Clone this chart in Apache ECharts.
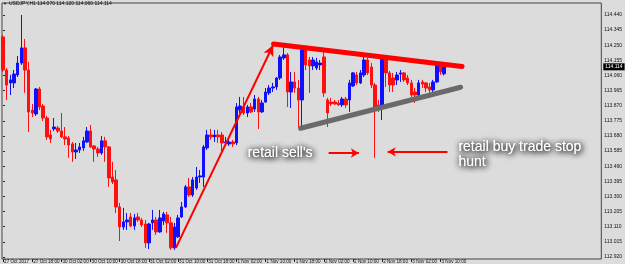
<!DOCTYPE html>
<html><head><meta charset="utf-8">
<script src="https://cdn.jsdelivr.net/npm/echarts@6/dist/echarts.min.js"></script>
<style>html,body{margin:0;padding:0;background:#dcdcdc}#c{width:625px;height:264px}</style>
</head><body><div id="c"></div>
<script>
// ---- data (USDJPY H1, bar index 0 = 27 Oct 2017 10:00) ----
const opens = [114.302,114.094,114.013,114.013,114.063,114.138,114.233,114.094,113.843,113.818,
113.975,113.868,113.793,113.686,113.724,113.730,113.711,113.674,113.667,113.630,
113.579,113.592,113.605,113.642,113.711,113.617,113.598,113.573,113.649,113.611,
113.422,113.404,113.234,113.108,113.140,113.171,113.115,113.171,113.152,113.127,
113.008,113.134,113.152,113.077,113.146,113.184,113.134,112.977,113.046,113.171,
113.234,113.360,113.309,113.353,113.422,113.422,113.605,113.686,113.674,113.686,
113.686,113.636,113.630,113.642,113.636,113.843,113.862,113.824,113.862,113.849,
113.912,113.831,113.893,113.950,113.981,113.988,114.044,114.170,114.189,113.956,
114.019,113.981,113.906,114.220,114.157,114.120,114.107,114.126,114.176,113.906,
113.893,113.893,113.887,113.875,113.912,113.906,113.994,114.063,114.013,114.063,
114.157,114.113,114.000,113.875,113.856,114.170,114.076,114.044,114.032,114.069,
114.076,114.044,114.013,113.956,113.937,114.019,114.013,113.988,113.969,114.019,
114.126,114.070];
const closes = [114.094,114.000,114.032,114.069,114.138,114.233,114.094,113.831,113.824,113.975,
113.862,113.793,113.674,113.661,113.736,113.711,113.674,113.661,113.623,113.579,
113.592,113.611,113.649,113.711,113.611,113.598,113.573,113.649,113.611,113.416,
113.391,113.234,113.108,113.140,113.152,113.115,113.165,113.152,113.121,113.008,
113.127,113.152,113.077,113.165,113.190,113.134,112.977,113.108,113.165,113.234,
113.360,113.309,113.404,113.422,113.429,113.611,113.686,113.674,113.686,113.674,
113.636,113.642,113.642,113.630,113.862,113.868,113.824,113.862,113.831,113.912,
113.831,113.887,113.956,113.981,113.988,114.044,114.176,114.189,113.956,114.019,
113.981,113.906,114.220,114.126,114.120,114.157,114.145,114.138,113.950,113.824,
113.881,113.881,113.875,113.912,113.875,114.013,114.076,114.013,114.076,114.157,
114.076,114.000,113.856,113.856,114.170,114.076,114.000,114.000,114.063,114.076,
114.032,114.013,113.937,113.937,114.013,114.006,113.981,113.969,114.019,114.126,
114.082,114.114];
const lows = [114.082,113.906,113.937,113.981,114.050,114.126,113.950,113.705,113.799,113.806,
113.843,113.774,113.655,113.636,113.711,113.699,113.667,113.623,113.542,113.517,
113.535,113.573,113.586,113.636,113.605,113.517,113.548,113.561,113.517,113.360,
113.378,113.196,113.020,113.090,113.090,113.108,113.090,113.140,113.108,112.977,
112.970,113.090,113.058,113.071,113.121,113.071,112.964,112.964,113.039,113.165,
113.228,113.297,113.297,113.341,113.385,113.360,113.592,113.655,113.642,113.636,
113.573,113.623,113.617,113.611,113.623,113.824,113.812,113.799,113.824,113.831,
113.724,113.824,113.887,113.937,113.956,113.969,114.032,114.157,113.862,113.856,
113.950,113.736,113.736,114.094,113.950,114.094,114.094,114.094,113.925,113.736,
113.868,113.875,113.868,113.862,113.856,113.831,113.988,114.000,114.006,114.050,
114.063,113.981,113.542,113.831,113.780,113.988,113.956,113.956,114.000,114.019,
114.019,114.000,113.925,113.887,113.925,113.981,113.956,113.950,113.956,114.013,
114.063,114.060];
const highs = [114.314,114.107,114.063,114.094,114.182,114.440,114.289,114.145,113.881,113.981,
113.988,113.881,113.806,113.718,113.793,113.743,113.824,113.736,113.680,113.642,
113.636,113.636,113.674,113.736,113.749,113.623,113.611,113.680,113.674,113.617,
113.517,113.466,113.259,113.228,113.196,113.196,113.190,113.196,113.165,113.152,
113.134,113.215,113.171,113.215,113.203,113.203,113.171,113.134,113.184,113.265,
113.372,113.416,113.422,113.485,113.466,113.623,113.718,113.724,113.718,113.718,
113.705,113.674,113.667,113.655,113.887,113.925,113.925,113.875,113.887,113.937,
113.925,113.906,113.981,114.000,114.013,114.050,114.189,114.264,114.201,114.082,
114.082,114.032,114.233,114.233,114.176,114.176,114.170,114.157,114.207,113.919,
113.919,113.906,113.906,113.925,113.925,114.032,114.082,114.082,114.094,114.176,
114.170,114.138,114.013,113.906,114.189,114.176,114.088,114.076,114.082,114.094,
114.082,114.063,114.032,113.981,114.032,114.032,114.019,114.013,114.032,114.138,
114.138,114.120];
const xTickIdx = [0,8,16,24,32,40,48,56,64,72,80,88,96,104,112,120];
const xTickLabels = ['27 Oct 2017','27 Oct 18:00','30 Oct 02:00','30 Oct 10:00','30 Oct 18:00',
'31 Oct 02:00','31 Oct 10:00','31 Oct 18:00','1 Nov 02:00','1 Nov 10:00','1 Nov 18:00',
'2 Nov 02:00','2 Nov 10:00','2 Nov 18:00','3 Nov 02:00','3 Nov 10:00'];
const yTicks = [112.920,113.015,113.110,113.205,113.300,113.395,113.490,113.585,113.680,
113.775,113.870,113.965,114.060,114.155,114.250,114.345,114.440];
const headerText = 'USDJPY,H1 114.070 114.120 114.060 114.114';
// annotation anchors in (bar index, price)
const trendArrow = [[47.4,112.977],[74.1,114.251]];
const resistanceLine = [[74.2,114.258],[125.9,114.116]];
const supportLine = [[81.6,113.728],[125.5,113.986]];
const arrowRight = [[89.3,113.573],[97.6,113.573]];
const arrowLeft = [[121.9,113.580],[105.5,113.580]];
const noteSell = {text:"retail sell's", at:[67.1,113.573]};
const noteBuy = {text:"retail buy trade stop\nhunt", at:[124.9,113.561]};

const candles = opens.map((o,i)=>[i,o,closes[i],lows[i],highs[i]]);
const lastClose = closes[closes.length-1];

const chart = echarts.init(document.getElementById('c'), null, {renderer:'canvas'});
const seg = (pts, style, endSym, endSize) => [
  {coord: pts[0], symbol:'none', lineStyle: style},
  {coord: pts[1], symbol: endSym || 'none', symbolSize: endSize || 0}
];
const smallFont = 'Liberation Sans';
chart.setOption({
  animation:false,
  backgroundColor:'#dcdcdc',
  grid:{left:2,right:23,top:3,bottom:5,show:true,borderColor:'#444',borderWidth:1,backgroundColor:'transparent'},
  xAxis:{type:'value',min:-0.3,max:164.1,
    axisLine:{show:false},splitLine:{show:false},
    axisTick:{show:true,customValues:xTickIdx,length:3,lineStyle:{color:'#222'}},
    axisLabel:{customValues:xTickIdx,align:'left',margin:0,padding:[0,0,0,1],fontSize:4.6,color:'#111',fontFamily:smallFont,
      showMinLabel:true,hideOverlap:false,
      formatter:(v)=>{const k=xTickIdx.indexOf(Math.round(v));return k>=0?xTickLabels[k]:'';}}},
  yAxis:{type:'value',position:'right',min:112.907,max:114.515,scale:true,
    axisLine:{show:false},splitLine:{show:false},
    axisTick:{show:true,customValues:yTicks,length:2,lineStyle:{color:'#222'}},
    axisLabel:{customValues:yTicks,margin:3,fontSize:5,color:'#111',fontFamily:smallFont,
      formatter:(v)=>v.toFixed(3)}},
  series:[{
    type:'candlestick',
    data:candles,
    encode:{x:0,y:[1,2,3,4]},
    barWidth:3,
    itemStyle:{color:'#1010ff',color0:'#ff1010',borderColor:'#1010ff',borderColor0:'#ff1010',borderWidth:1},
    markLine:{silent:true,animation:false,symbol:['none','none'],label:{show:false},
      data:[
        [{yAxis:lastClose,symbol:'none',lineStyle:{color:'#8a8a8a',width:1,type:'solid'}},
         {yAxis:lastClose,symbol:'none'}],
        seg(trendArrow,{color:'#ff0000',width:2,type:'solid'},'arrow',[8,11]),
        seg(resistanceLine,{color:'#ff0000',width:5,type:'solid',cap:'round'}),
        seg(supportLine,{color:'#6a6a6a',width:5,type:'solid',cap:'round'}),
        seg(arrowRight,{color:'#ff0000',width:2,type:'solid'},'arrow',[7,8]),
        seg(arrowLeft,{color:'#ff0000',width:2,type:'solid'},'arrow',[7,8])
      ]}
  }]
});
const txtStyle = {fill:'#fff',fontSize:14,fontFamily:'Liberation Sans',lineHeight:15,
  textShadowColor:'rgba(0,0,0,1)',textShadowBlur:6,textShadowOffsetX:1,textShadowOffsetY:1};
const p1 = chart.convertToPixel({gridIndex:0}, noteSell.at);
const p2 = chart.convertToPixel({gridIndex:0}, noteBuy.at);
const pc = chart.convertToPixel({gridIndex:0}, [164.1, lastClose]);
const mk = (p, t) => [
  {type:'text',x:p[0],y:p[1],style:Object.assign({text:t,textVerticalAlign:'middle'},txtStyle)},
  {type:'text',x:p[0],y:p[1],style:Object.assign({text:t,textVerticalAlign:'middle'},txtStyle)}
];
chart.setOption({graphic:[
  {type:'text',left:3,top:2,style:{text:'\u25BC',fontSize:4,fill:'#111'}},
  {type:'text',left:9,top:1,style:{text:headerText,fontSize:5,fill:'#111',fontFamily:smallFont}},
  {type:'text',x:pc[0]+2,y:pc[1],z:100,style:{text:lastClose.toFixed(3),fontSize:5,fill:'#fff',fontFamily:smallFont,
    textVerticalAlign:'middle',backgroundColor:'#000',padding:[1,2,1,2]}}
].concat(mk(p1, noteSell.text), mk(p2, noteBuy.text))});
</script></body></html>
